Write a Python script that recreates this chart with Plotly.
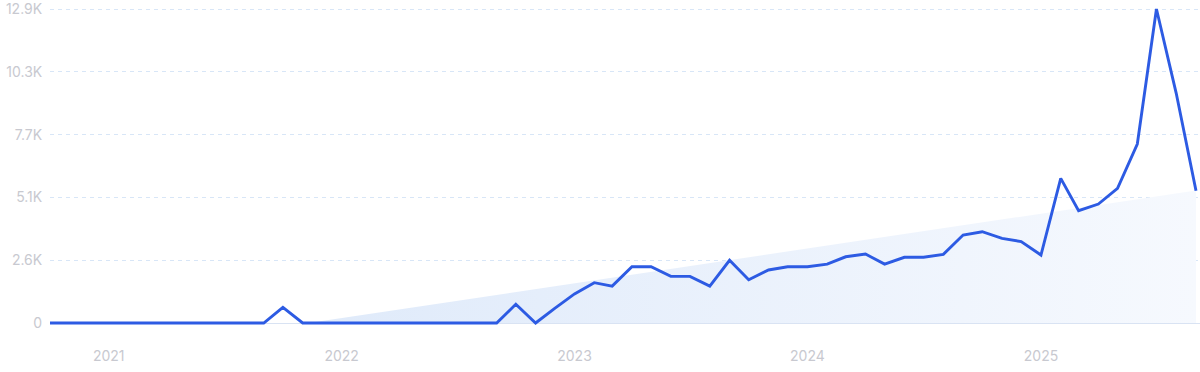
import plotly.graph_objects as go
import pandas as pd

# ---- data (monthly, Oct 2020 .. Sep 2025) ----
months = pd.date_range("2020-10-01", "2025-09-01", freq="MS")
values = [
    0, 0, 0,                                   # Oct-Dec 2020
    0, 0, 0, 0, 0, 0, 0, 0, 0, 640, 0, 0,      # 2021
    0, 0, 0, 0, 0, 0, 0, 0, 0, 765, 0, 600,    # 2022
    1190, 1650, 1510, 2300, 2300, 1910, 1910, 1510, 2565, 1770, 2170, 2300,  # 2023
    2300, 2410, 2710, 2820, 2410, 2690, 2690, 2810, 3600, 3735, 3465, 3330,  # 2024
    2780, 5920, 4595, 4870, 5510, 7325, 12850, 9400, 5410,                   # 2025
]

# trend band
trend_dates = ["2021-11-10", "2025-09-01"]
trend_values = [0, 5420]

# axis ticks
y_tickvals = [0, 2570, 5140, 7710, 10280, 12850]
y_ticktext = ["0", "2.6K", "5.1K", "7.7K", "10.3K", "12.9K"]
x_tickvals = ["2021-01-01", "2022-01-01", "2023-01-01", "2024-01-01", "2025-01-01"]
x_ticktext = ["2021", "2022", "2023", "2024", "2025"]

LINE = "#2d5be3"
LABEL = "#c8c9d0"
GRID = "#d8e6f7"
FONT = "Inter, Roboto, sans-serif"

fig = go.Figure()

fig.add_trace(go.Scatter(
    x=trend_dates, y=trend_values, mode="lines",
    line=dict(width=0, color="rgba(0,0,0,0)"),
    fill="tozeroy",
    fillgradient=dict(type="horizontal",
                      colorscale=[[0, "#dfeafa"], [1, "#f6f9fe"]]),
    hoverinfo="skip", showlegend=False,
))

fig.add_trace(go.Scatter(
    x=months, y=values, mode="lines",
    line=dict(color=LINE, width=2.9),
    showlegend=False,
))

# y range so that 0 -> px 323 and 12850 -> px 9 with plot area 5..327
upp = 12850 / 314.0
fig.update_layout(
    width=1200, height=372,
    margin=dict(l=50, r=0, t=5, b=45),
    paper_bgcolor="white", plot_bgcolor="white",
    font=dict(family=FONT, size=14, color=LABEL),
    xaxis=dict(
        range=["2020-10-01", "2025-09-07 06:00"],
        tickvals=x_tickvals, ticktext=x_ticktext,
        showgrid=False, zeroline=False, showline=False,
        ticks="outside", ticklen=16, tickcolor="rgba(0,0,0,0)",
        tickfont=dict(family=FONT, size=14, color=LABEL),
    ),
    yaxis=dict(
        range=[-4 * upp, 12850 + 4 * upp],
        tickvals=y_tickvals, ticktext=y_ticktext,
        showgrid=True, gridcolor=GRID, griddash="4px,4px", gridwidth=1,
        zeroline=True, zerolinecolor="#d9e3f3", zerolinewidth=1,
        showline=False,
        ticks="outside", ticklen=4, tickcolor="rgba(0,0,0,0)",
        ticklabeloverflow="allow",
        tickfont=dict(family=FONT, size=14, color=LABEL),
    ),
)

fig.write_html("out.html")
